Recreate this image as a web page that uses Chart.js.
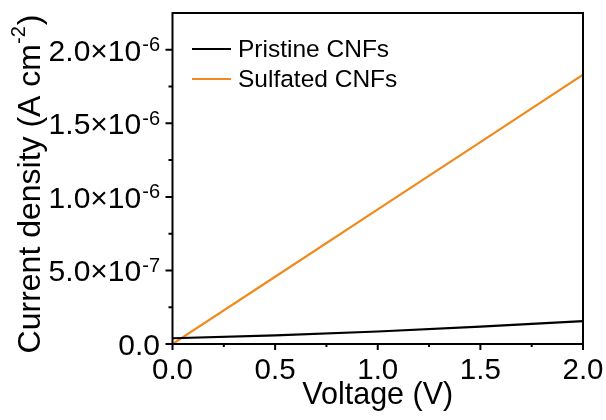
<!DOCTYPE html>
<html>
<head>
<meta charset="utf-8">
<script src="https://cdn.jsdelivr.net/npm/chart.js@4/dist/chart.umd.min.js"></script>
<style>
  html, body { margin: 0; padding: 0; background: #fff; }
  #wrap { width: 606px; height: 420px; }
</style>
</head>
<body>
<div id="wrap"><canvas id="c" width="606" height="420"></canvas></div>
<script>
// J–V curves of the two fibre mats
const voltage   = [0, 0.5, 1.0, 1.5, 2.0];
const pristine  = [3.9e-8, 5.9e-8, 8.5e-8, 1.18e-7, 1.55e-7];
const sulfated  = [0, 4.57e-7, 9.15e-7, 1.372e-6, 1.83e-6];
const seriesNames = ['Pristine CNFs', 'Sulfated CNFs'];

// axis ticks
const xTickValues = [0, 0.5, 1.0, 1.5, 2.0];
const xTickLabels = ['0.0', '0.5', '1.0', '1.5', '2.0'];
const xMinorValues = [0.25, 0.75, 1.25, 1.75];
const yTickValues = [0, 5e-7, 1e-6, 1.5e-6, 2e-6];
const yTickLabels = ['0.0', '5.0×10', '1.0×10', '1.5×10', '2.0×10'];
const yTickExps   = ['', '-7', '-6', '-6', '-6'];
const yMinorValues = [2.5e-7, 7.5e-7, 1.25e-6, 1.75e-6];

const FONT = '"Liberation Sans", Arial, sans-serif';
const colors = ['#000000', '#F08A1C'];

const toPts = (ys) => voltage.map((v, i) => ({ x: v, y: ys[i] }));

const axesPlugin = {
  id: 'axesPlugin',
  afterDraw(chart) {
    const ctx = chart.ctx;
    const a = chart.chartArea;
    const xs = chart.scales.x, ys = chart.scales.y;
    ctx.save();
    ctx.strokeStyle = '#000';
    ctx.fillStyle = '#000';
    ctx.lineWidth = 2;
    // frame
    ctx.strokeRect(a.left, a.top, a.right - a.left, a.bottom - a.top);

    // x ticks
    ctx.beginPath();
    xTickValues.forEach(v => { const p = xs.getPixelForValue(v); ctx.moveTo(p, a.bottom); ctx.lineTo(p, a.bottom + 6); });
    xMinorValues.forEach(v => { const p = xs.getPixelForValue(v); ctx.moveTo(p, a.bottom); ctx.lineTo(p, a.bottom + 3); });
    // y ticks
    yTickValues.forEach(v => { const p = ys.getPixelForValue(v); ctx.moveTo(a.left, p); ctx.lineTo(a.left - 7, p); });
    yMinorValues.forEach(v => { const p = ys.getPixelForValue(v); ctx.moveTo(a.left, p); ctx.lineTo(a.left - 4, p); });
    ctx.stroke();

    // x tick labels
    ctx.font = '29.5px ' + FONT;
    ctx.textAlign = 'center';
    ctx.textBaseline = 'alphabetic';
    xTickValues.forEach((v, i) => {
      ctx.fillText(xTickLabels[i], xs.getPixelForValue(v), 379);
    });

    // y tick labels with superscript exponents
    const rightEdge = 160;
    yTickValues.forEach((v, i) => {
      const p = ys.getPixelForValue(v);
      ctx.textAlign = 'right';
      let end = rightEdge;
      if (yTickExps[i]) {
        ctx.font = '20px ' + FONT;
        ctx.fillText(yTickExps[i], rightEdge, p + 1.5);
        end = rightEdge - ctx.measureText(yTickExps[i]).width - 1;
      }
      ctx.font = '30px ' + FONT;
      ctx.fillText(yTickLabels[i], end, p + 11);
    });

    // x title
    ctx.font = '30.5px ' + FONT;
    ctx.textAlign = 'center';
    ctx.fillText('Voltage (V)', (a.left + a.right) / 2, 404);

    // y title, rotated, with superscript
    ctx.save();
    ctx.translate(40, 184);
    ctx.rotate(-Math.PI / 2);
    const partA = 'Current density (A cm', partB = '-2', partC = ')';
    ctx.font = '32px ' + FONT;
    const wA = ctx.measureText(partA).width, wC = ctx.measureText(partC).width;
    ctx.font = '20px ' + FONT;
    const wB = ctx.measureText(partB).width;
    const total = wA + wB + wC + 1;
    let x0 = -total / 2;
    ctx.textAlign = 'left';
    ctx.font = '32px ' + FONT;
    ctx.fillText(partA, x0, 0);
    ctx.font = '20px ' + FONT;
    ctx.fillText(partB, x0 + wA, -15);
    ctx.font = '32px ' + FONT;
    ctx.fillText(partC, x0 + wA + wB + 1, 0);
    ctx.restore();

    // legend inside the plot
    ctx.font = '24.5px ' + FONT;
    ctx.textAlign = 'left';
    ctx.textBaseline = 'middle';
    chart.data.datasets.forEach((ds, i) => {
      const y = 49 + i * 30;
      ctx.strokeStyle = ds.borderColor;
      ctx.lineWidth = 2;
      ctx.beginPath();
      ctx.moveTo(192, y);
      ctx.lineTo(231, y);
      ctx.stroke();
      ctx.fillStyle = '#000';
      ctx.fillText(ds.label, 238, y + 1);
    });
    ctx.restore();
  }
};

new Chart(document.getElementById('c'), {
  type: 'scatter',
  data: {
    datasets: [
      { label: seriesNames[0], data: toPts(pristine), showLine: true, borderColor: colors[0], borderWidth: 2.2, pointRadius: 0, tension: 0 },
      { label: seriesNames[1], data: toPts(sulfated), showLine: true, borderColor: colors[1], borderWidth: 2.2, pointRadius: 0, tension: 0 }
    ]
  },
  options: {
    responsive: false,
    animation: false,
    events: [],
    layout: { padding: { top: 13, right: 23, left: 0, bottom: 0 } },
    plugins: { legend: { display: false }, tooltip: { enabled: false } },
    scales: {
      x: {
        type: 'linear', min: 0, max: 2,
        ticks: { display: false },
        grid: { display: false },
        border: { display: false },
        afterFit(s) { s.height = 76; }
      },
      y: {
        type: 'linear', min: 0, max: 2.25e-6,
        ticks: { display: false },
        grid: { display: false },
        border: { display: false },
        afterFit(s) { s.width = 172.5; }
      }
    }
  },
  plugins: [axesPlugin]
});
</script>
</body>
</html>
